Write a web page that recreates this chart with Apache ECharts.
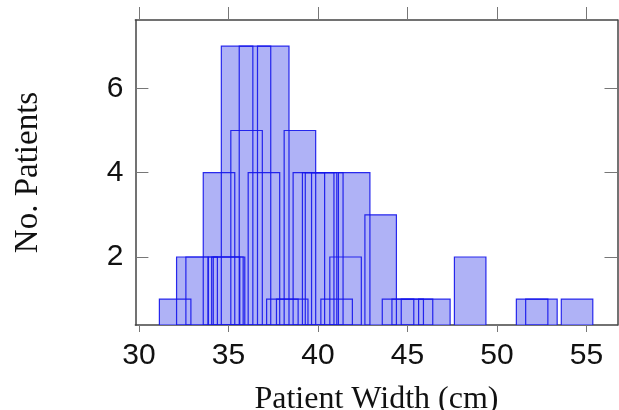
<!DOCTYPE html>
<html>
<head>
<meta charset="utf-8">
<script src="https://cdn.jsdelivr.net/npm/echarts@6/dist/echarts.min.js"></script>
<style>
html,body{margin:0;padding:0;background:#fff;}
#chart{width:619px;height:410px;}
</style>
</head>
<body>
<div id="chart"></div>
<script>
// Rectangles: left edge (cm) and count (No. Patients), each of fixed width
const binWidth = 1.76;
const rectLeft = [31.14, 32.10, 32.62, 33.59, 33.87, 34.06, 34.15, 34.60, 35.13, 35.60, 36.10, 36.62,
                  37.13, 37.68, 38.11, 38.61, 39.13, 39.29, 39.64, 40.16, 40.66, 41.14,
                  42.62, 43.59, 44.13, 44.65, 45.62, 47.62, 51.08, 51.60, 53.59];
const rectCount = [1, 2, 2, 4, 2, 2, 2, 7, 5, 7, 4, 7,
                   1, 1, 5, 4, 4, 4, 4, 1, 2, 4,
                   3, 1, 1, 1, 1, 2, 1, 1, 1];
const xTicks = [30, 35, 40, 45, 50, 55];
const yTicks = [2, 4, 6];

const xMin = 29.8, xMax = 56.73;
const yMin = 0.387, yMax = 7.62;

const data = rectLeft.map((l, i) => [l, rectCount[i]]);

function makeRender(mode) {
  return function (params, api) {
    const left = api.value(0), h = api.value(1);
    const p1 = api.coord([left, h]);
    const p2 = api.coord([left + binWidth, yMin]);
    const style = mode === 'fill'
      ? { fill: '#afb2f6', stroke: null }
      : { fill: null, stroke: 'rgba(20,20,235,0.9)', lineWidth: 1.2 };
    return {
      type: 'rect',
      shape: { x: p1[0], y: p1[1], width: p2[0] - p1[0], height: p2[1] - p1[1] },
      style: style
    };
  };
}

const lineCol = '#444';
const chart = echarts.init(document.getElementById('chart'), null, { renderer: 'canvas' });
chart.setOption({
  animation: false,
  grid: { left: 135.4, right: 1.5, top: 20, bottom: 85, containLabel: false, outerBoundsMode: 'none' },
  xAxis: [
    {
      type: 'value', position: 'bottom', min: xMin, max: xMax,
      axisLine: { show: true, onZero: false, lineStyle: { color: lineCol, width: 1.5 } },
      axisTick: { show: true, inside: false, length: 7, customValues: xTicks, lineStyle: { color: '#777', width: 1 } },
      axisLabel: { customValues: xTicks, fontSize: 30, color: '#111', fontFamily: 'Liberation Sans', margin: 16 },
      splitLine: { show: false },
      name: 'Patient Width (cm)', nameLocation: 'middle', nameGap: 59,
      nameTextStyle: { fontFamily: 'Liberation Serif', fontSize: 32, color: '#111' }
    },
    {
      type: 'value', position: 'top', min: xMin, max: xMax,
      axisLine: { show: true, onZero: false, lineStyle: { color: lineCol, width: 1.5 } },
      axisTick: { show: true, inside: false, length: 13, customValues: xTicks, lineStyle: { color: '#777', width: 1 } },
      axisLabel: { show: false },
      splitLine: { show: false }
    }
  ],
  yAxis: [
    {
      type: 'value', position: 'left', min: yMin, max: yMax,
      axisLine: { show: true, onZero: false, lineStyle: { color: lineCol, width: 1.5 } },
      axisTick: { show: true, inside: true, length: 13, customValues: yTicks, lineStyle: { color: '#777', width: 1 } },
      axisLabel: { customValues: yTicks, fontSize: 30, color: '#111', fontFamily: 'Liberation Sans', margin: 12 },
      splitLine: { show: false },
      name: 'No. Patients', nameLocation: 'middle', nameGap: 91,
      nameTextStyle: { fontFamily: 'Liberation Serif', fontSize: 33, color: '#111' }
    },
    {
      type: 'value', position: 'right', min: yMin, max: yMax,
      axisLine: { show: true, onZero: false, lineStyle: { color: lineCol, width: 1.5 } },
      axisTick: { show: true, inside: true, length: 13, customValues: yTicks, lineStyle: { color: '#777', width: 1 } },
      axisLabel: { show: false },
      splitLine: { show: false }
    }
  ],
  series: [
    {
      type: 'custom', name: 'fill', xAxisIndex: 0, yAxisIndex: 0,
      renderItem: makeRender('fill'), data: data, encode: { x: 0, y: 1 },
      z: 2, silent: true, clip: true
    },
    {
      type: 'custom', name: 'edge', xAxisIndex: 0, yAxisIndex: 0,
      renderItem: makeRender('stroke'), data: data, encode: { x: 0, y: 1 },
      z: 3, silent: true, clip: true
    }
  ]
});
</script>
</body>
</html>
